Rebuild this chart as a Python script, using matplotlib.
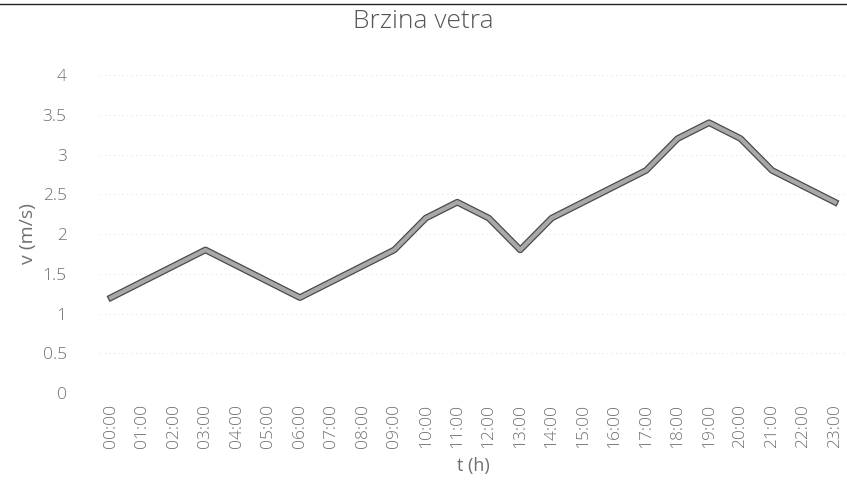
import matplotlib
matplotlib.use("Agg")
import matplotlib.pyplot as plt
import matplotlib.patheffects as pe
from matplotlib.lines import Line2D

hours = ["00:00", "01:00", "02:00", "03:00", "04:00", "05:00", "06:00", "07:00",
         "08:00", "09:00", "10:00", "11:00", "12:00", "13:00", "14:00", "15:00",
         "16:00", "17:00", "18:00", "19:00", "20:00", "21:00", "22:00", "23:00"]
speed = [1.2, 1.4, 1.6, 1.8, 1.6, 1.4, 1.2, 1.4, 1.6, 1.8, 2.2, 2.4,
         2.2, 1.8, 2.2, 2.4, 2.6, 2.8, 3.2, 3.4, 3.2, 2.8, 2.6, 2.4]
yticks = [0, 0.5, 1, 1.5, 2, 2.5, 3, 3.5, 4]

plt.rcParams['font.family'] = ['Open Sans', 'DejaVu Sans']
plt.rcParams['font.weight'] = 'light'
txt = '#707070'

fig = plt.figure(figsize=(8.47, 4.94), dpi=100)
W, H = 847, 494
ax = fig.add_axes([100 / W, (H - 393) / H, 746 / W, 318 / H])

x = list(range(len(hours)))
ax.plot(x, speed, color='#a8a8a8', linewidth=3, clip_on=False,
        path_effects=[pe.Stroke(linewidth=4.8, foreground='#4a4a4a'), pe.Normal()])

ax.set_xlim(-0.35, 23.35)
ax.set_ylim(0, 4)
ax.set_xticks(x)
ax.set_xticklabels(hours, rotation=90, fontsize=12.5, color=txt)
ax.set_yticks(yticks)
ax.set_yticklabels([f"{v:g}" for v in yticks], fontsize=12.5, color=txt)
ax.tick_params(axis='x', length=0, pad=8)
ax.tick_params(axis='y', length=0, pad=24)
ax.grid(axis='y', color='#e4e4e4', linewidth=0.8, linestyle=(0, (1, 3)))
ax.set_axisbelow(True)
for s in ax.spines.values():
    s.set_visible(False)

ax.set_xlabel("t (h)", fontsize=13, color=txt, labelpad=6)
ax.set_ylabel("v (m/s)", fontsize=14, color=txt, labelpad=4)
fig.text(0.5, 1 - 21 / H, "Brzina vetra", ha='center', va='center',
         fontsize=19, color='#555555')
fig.add_artist(Line2D([0, 1], [1 - 4 / H, 1 - 4 / H], color='#222222', linewidth=1))

plt.savefig("out.png", dpi=100)
